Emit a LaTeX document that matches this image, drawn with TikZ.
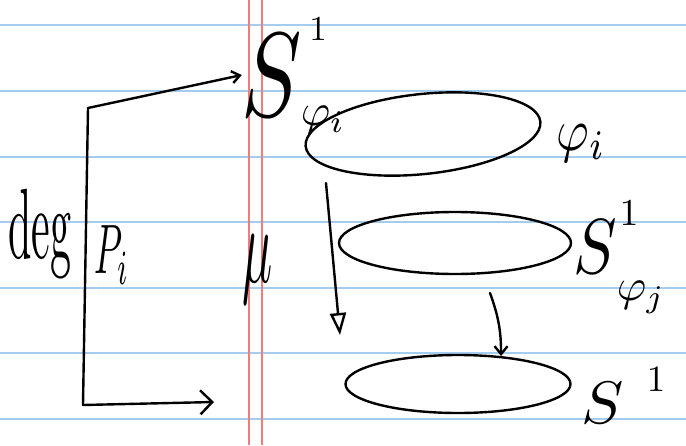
\documentclass[tikz,border=0pt]{standalone}
\usetikzlibrary{arrows.meta,shapes.geometric}
\definecolor{paperblue}{HTML}{A4CCEE}
\definecolor{paperred}{HTML}{F07C7C}
\begin{document}
\begin{tikzpicture}[x=1pt,y=-1pt,
  ink/.style={line width=2.4pt, black, line cap=round, line join=round},
  loop/.style={ink, draw, ellipse, inner sep=0pt},
  lbl/.style={inner sep=0pt, outer sep=0pt},
  ruled/.style={line width=1.3pt, color=paperblue},
  marginline/.style={line width=1.3pt, color=paperred}]
\useasboundingbox (0,0) rectangle (686,445);
\fill[white] (0,0) rectangle (686,445);
\foreach \yy in {25,91,157,222,288,353,419} \draw[ruled] (0,\yy) -- (686,\yy);
\draw[marginline] (249,0) -- (249,445);
\draw[marginline] (262,0) -- (262,445);
% top circle and its label
\node[lbl] (S1) at (272,75) {\scalebox{9}[12]{$S$}};
\node[lbl] (S1sup) at (318,29) {\scalebox{3.5}{$1$}};
\node[lbl] (S1sub) at (323,120) {\scalebox{4.5}{$\varphi_i$}};
\node[loop, minimum width=236pt, minimum height=80pt, rotate=6] (e1) at (423,134) {};
\node[lbl] (phii) at (581,143) {\scalebox{5}[6]{$\varphi_i$}};
% middle circle
\node[loop, minimum width=232pt, minimum height=62pt] (e2) at (455,243) {};
\node[lbl] (S2) at (595,247) {\scalebox{6.5}[7.8]{$S$}};
\node[lbl] (S2sup) at (629,213) {\scalebox{3.8}{$1$}};
\node[lbl] (S2sub) at (641,297) {\scalebox{4.5}{$\varphi_j$}};
% bottom circle
\node[loop, minimum width=225pt, minimum height=58pt] (e3) at (458,384) {};
\node[lbl] (S3) at (603,403) {\scalebox{6.3}[6]{$S$}};
\node[lbl] (S3sup) at (656,380) {\scalebox{3.7}{$1$}};
% left labels
\node[lbl] (deg) at (40,234) {\scalebox{4.2}[10]{deg}};
\node[lbl] (Pi) at (112,255) {\scalebox{3.6}[7]{$P_i$}};
\node[lbl] (mu) at (258,270) {\scalebox{5}[11]{$\mu$}};
% arrows
\coordinate (v1) at (326,183);
\coordinate (v2) at (340,335);
\draw[ink, -{Triangle[open,length=22pt,width=16pt]}] (v1) -- (v2);
\coordinate (h1) at (490,293);
\draw[ink, -{Straight Barb[length=8pt,width=13pt]}] (h1) to[bend left=10] (e3.33);
\coordinate (bT) at (88,108);
\coordinate (bB) at (83,405);
\coordinate (bE) at (214,402);
\draw[ink, {Straight Barb[length=8pt,width=12pt]}-{Straight Barb[length=12pt,width=24pt]}] (S1.west) -- (bT) -- (bB) -- (bE);
\end{tikzpicture}
\end{document}
